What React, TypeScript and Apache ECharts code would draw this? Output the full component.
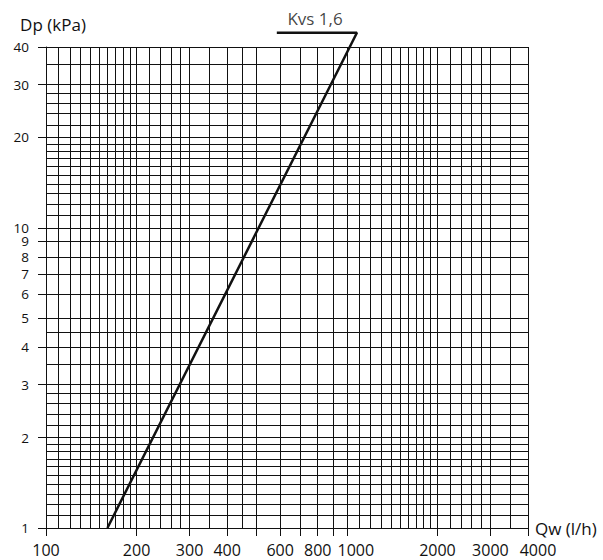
import React, { useEffect, useRef } from "react";
import * as echarts from "echarts";

// Grid line positions (flow, l/h)
const xGridValues = [
  100, 110, 120, 130, 140, 150, 160, 170, 180, 190,
  200, 220, 240, 260, 280, 300, 350, 400, 450, 500,
  600, 700, 800, 900, 1000, 1100, 1200, 1300, 1400, 1500,
  1600, 1700, 1800, 1900, 2000, 2200, 2400, 2600, 2800, 3000,
  3500, 4000,
];
// Grid line positions (pressure drop, kPa)
const yGridValues = [
  1, 1.1, 1.2, 1.3, 1.4, 1.5, 1.6, 1.7, 1.8, 1.9,
  2, 2.2, 2.4, 2.6, 2.8, 3, 3.5, 4, 4.5, 5,
  6, 7, 8, 9, 10, 11, 12, 13, 14, 15,
  16, 17, 18, 19, 20, 22, 24, 26, 28, 30,
  35, 40,
];
const xTickValues = [100, 200, 300, 400, 500, 600, 700, 800, 900, 1000, 2000, 3000, 4000];
const xLabelValues = [100, 200, 300, 400, 600, 800, 1000, 2000, 3000, 4000];
const yLabelValues = [1, 2, 3, 4, 5, 6, 7, 8, 9, 10, 20, 30, 40];

// Kvs 1,6 curve: leader start, leader end / curve top, curve bottom
const kvsCurve = [
  [585, 44.6],
  [1080, 44.6],
  [160, 1],
];
const kvsLabelPoint = [[784, 44.6]];
const kvsName = "Kvs 1,6";

const xAxisName = "Qw (l/h)";
const yAxisName = "Dp (kPa)";

const FONT = "'Open Sans', 'Noto Sans', sans-serif";
const INK = "#111111";

export default function App() {
  const ref = useRef<HTMLDivElement>(null);

  useEffect(() => {
    if (!ref.current) return;
    const chart = echarts.init(ref.current, null, { renderer: "svg" });

    const xLabelStyle = { fontFamily: FONT, fontSize: 16, color: INK };

    const option: any = {
      animation: false,
      backgroundColor: "#ffffff",
      grid: {
        left: 46,
        top: 47,
        width: 482,
        height: 481,
        containLabel: false,
        outerBoundsMode: "none",
      },
      xAxis: {
        type: "log",
        logBase: 10,
        min: 100,
        max: 4000,
        name: xAxisName,
        nameLocation: "end",
        nameGap: 7,
        nameMoveOverlap: false,
        nameTextStyle: {
          fontFamily: FONT,
          fontSize: 17,
          color: INK,
          align: "left",
          verticalAlign: "middle",
        },
        axisLine: { show: true, lineStyle: { color: INK, width: 1 } },
        axisTick: {
          show: true,
          inside: false,
          length: 8,
          customValues: xTickValues,
          lineStyle: { color: INK, width: 1 },
        },
        axisLabel: {
          show: true,
          customValues: xLabelValues,
          margin: 14,
          ...xLabelStyle,
          formatter: (v: number) => {
            const n = Math.round(v);
            if (n === 1000) return `{a|${n}}`;
            if (n === 4000) return `{b|${n}}`;
            return String(n);
          },
          rich: {
            a: { ...xLabelStyle, padding: [0, 0, 0, 18] },
            b: { ...xLabelStyle, padding: [0, 0, 0, 20] },
          },
        },
        splitLine: { show: false },
        minorTick: { show: false },
        minorSplitLine: { show: false },
      },
      yAxis: {
        type: "log",
        logBase: 10,
        min: 1,
        max: 40,
        name: yAxisName,
        nameLocation: "end",
        nameGap: 14,
        nameMoveOverlap: false,
        nameTextStyle: {
          fontFamily: FONT,
          fontSize: 17,
          color: INK,
          align: "center",
          padding: [0, 0, 0, 14],
        },
        axisLine: { show: true, lineStyle: { color: INK, width: 1 } },
        axisTick: {
          show: true,
          inside: false,
          length: 8,
          customValues: yLabelValues,
          lineStyle: { color: INK, width: 1 },
        },
        axisLabel: {
          show: true,
          customValues: yLabelValues,
          margin: 17,
          fontFamily: FONT,
          fontSize: 13.5,
          lineHeight: 11,
          color: INK,
          formatter: (v: number) => String(Math.round(v)),
        },
        splitLine: { show: false },
        minorTick: { show: false },
        minorSplitLine: { show: false },
      },
      series: [
        {
          type: "line",
          data: [],
          silent: true,
          z: 1,
          markLine: {
            silent: true,
            animation: false,
            symbol: ["none", "none"],
            label: { show: false },
            emphasis: { disabled: true },
            lineStyle: { type: "solid", color: INK, width: 1 },
            data: [
              ...xGridValues.map((v) => ({ xAxis: v })),
              ...yGridValues.map((v) => ({ yAxis: v })),
            ],
          },
        },
        {
          type: "line",
          data: kvsCurve,
          symbol: "none",
          clip: false,
          silent: true,
          z: 5,
          lineStyle: { color: INK, width: 2.5 },
        },
        {
          type: "scatter",
          data: kvsLabelPoint,
          symbolSize: 0,
          clip: false,
          silent: true,
          z: 6,
          label: {
            show: true,
            position: "top",
            distance: 6,
            formatter: kvsName,
            fontFamily: FONT,
            fontSize: 17,
            color: INK,
          },
        },
      ],
    };

    chart.setOption(option);
    return () => {
      chart.dispose();
    };
  }, []);

  return (
    <div
      ref={ref}
      style={{
        position: "absolute",
        left: 0,
        top: 0,
        width: 603,
        height: 560,
        background: "#ffffff",
      }}
    />
  );
}
